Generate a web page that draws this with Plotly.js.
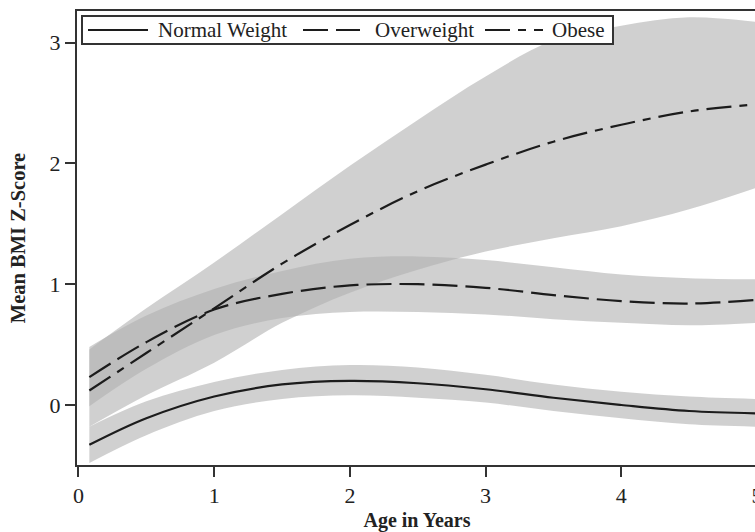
<!DOCTYPE html>
<html>
<head>
<meta charset="utf-8">
<script src="https://cdn.plot.ly/plotly-3.0.1.min.js"></script>
<style>html,body{margin:0;padding:0;background:#fff;overflow:hidden;}#chart{width:757px;height:532px;}</style>
</head>
<body>
<div id="chart"></div>
<script>
// Age in years
const ageYears = [0.08, 0.5, 1.0, 1.5, 2.0, 2.5, 3.0, 3.5, 4.0, 4.5, 5.0];

// Normal Weight
const normalMean  = [-0.33, -0.11, 0.07, 0.17, 0.20, 0.18, 0.13, 0.06, 0.00, -0.05, -0.07];
const normalLower = [-0.48, -0.25, -0.05, 0.05, 0.08, 0.06, 0.02, -0.05, -0.11, -0.16, -0.18];
const normalUpper = [-0.18, 0.03, 0.19, 0.29, 0.33, 0.31, 0.25, 0.17, 0.11, 0.07, 0.05];

// Overweight
const overMean  = [0.23, 0.52, 0.79, 0.92, 0.99, 1.00, 0.97, 0.91, 0.86, 0.84, 0.87];
const overLower = [-0.01, 0.30, 0.58, 0.72, 0.77, 0.77, 0.75, 0.71, 0.68, 0.66, 0.68];
const overUpper = [0.48, 0.74, 0.96, 1.11, 1.21, 1.23, 1.20, 1.14, 1.08, 1.05, 1.04];

// Obese
const obeseMean  = [0.12, 0.43, 0.80, 1.17, 1.49, 1.77, 1.99, 2.18, 2.32, 2.43, 2.49];
const obeseLower = [-0.18, 0.08, 0.35, 0.68, 0.93, 1.12, 1.27, 1.38, 1.48, 1.62, 1.80];
const obeseUpper = [0.46, 0.80, 1.18, 1.58, 1.98, 2.36, 2.72, 3.02, 3.14, 3.21, 3.17];

const groupNames = ['Normal Weight', 'Overweight', 'Obese'];
const xTicks = [0, 1, 2, 3, 4, 5];
const yTicks = [0, 1, 2, 3];

const bandFill = 'rgba(176,176,176,0.6)';
const lineColor = '#1c1c1c';
const serif = 'Liberation Serif, Times New Roman, serif';
const dashStyles = ['solid', '25px,8px', '25px,8px,8px,8px'];

function band(lower, upper) {
  return [
    {x: ageYears, y: lower, mode: 'lines', line: {width: 0, shape: 'spline'}, showlegend: false, hoverinfo: 'skip'},
    {x: ageYears, y: upper, mode: 'lines', line: {width: 0, shape: 'spline'}, fill: 'tonexty', fillcolor: bandFill, showlegend: false, hoverinfo: 'skip'}
  ];
}

const means = [normalMean, overMean, obeseMean];
const traces = [
  ...band(normalLower, normalUpper),
  ...band(overLower, overUpper),
  ...band(obeseLower, obeseUpper),
  ...means.map((m, i) => ({
    x: ageYears, y: m, mode: 'lines', name: groupNames[i], showlegend: false,
    line: {color: lineColor, width: 2.2, shape: 'spline', dash: dashStyles[i]}
  }))
];

// Plot-area geometry (pixels) used to place the hand-drawn legend box
const W = 757, H = 532, ML = 77, MT = 11, MB = 67;
const PW = W - ML, PH = H - MT - MB;
const px = v => (v - ML) / PW;
const py = v => (H - MB - v) / PH;

const legendBox = {x0: 82, x1: 613, y0: 16, y1: 44};
const legendRowY = 30;
const legendSamples = [[88, 148], [303, 360], [485, 543]];
const legendTextX = [156, 373, 550];

const shapes = [
  {type: 'rect', xref: 'paper', yref: 'paper', x0: px(legendBox.x0), x1: px(legendBox.x1), y0: py(legendBox.y1), y1: py(legendBox.y0),
   line: {color: '#333', width: 2}, fillcolor: '#fff', layer: 'above'},
  ...legendSamples.map((s, i) => ({
    type: 'line', xref: 'paper', yref: 'paper', x0: px(s[0]), x1: px(s[1]), y0: py(legendRowY), y1: py(legendRowY),
    line: {color: lineColor, width: 2.2, dash: dashStyles[i]}, layer: 'above'
  }))
];

const annotations = groupNames.map((g, i) => ({
  xref: 'paper', yref: 'paper', x: px(legendTextX[i]), y: py(legendRowY), xanchor: 'left', yanchor: 'middle',
  text: g, showarrow: false, font: {family: serif, size: 21, color: '#222'}
}));

const layout = {
  width: W, height: H,
  margin: {l: ML, r: 0, t: MT, b: MB, pad: 0},
  paper_bgcolor: '#fff', plot_bgcolor: '#fff',
  font: {family: serif, size: 20, color: '#222'},
  showlegend: false,
  shapes: shapes,
  annotations: annotations,
  xaxis: {
    range: [-0.011, 5.0], tickvals: xTicks, ticktext: xTicks.map(String),
    showgrid: false, zeroline: false, showline: true, linecolor: '#333', linewidth: 2, mirror: true,
    ticks: 'outside', ticklen: 10, tickwidth: 2, tickcolor: '#333', ticklabeloverflow: 'allow',
    tickfont: {family: serif, size: 22, color: '#222'},
    title: {text: '<b>Age in Years</b>', font: {family: serif, size: 20, color: '#222'}, standoff: 11}
  },
  yaxis: {
    range: [-0.497, 3.262], tickvals: yTicks, ticktext: yTicks.map(String),
    showgrid: false, zeroline: false, showline: true, linecolor: '#333', linewidth: 2,
    ticks: 'outside', ticklen: 10, tickwidth: 2, tickcolor: '#333',
    tickfont: {family: serif, size: 22, color: '#222'},
    title: {text: '<b>Mean BMI Z-Score</b>', font: {family: serif, size: 20.5, color: '#222'}, standoff: 18}
  }
};

Plotly.newPlot('chart', traces, layout, {staticPlot: true, displayModeBar: false});
</script>
</body>
</html>
